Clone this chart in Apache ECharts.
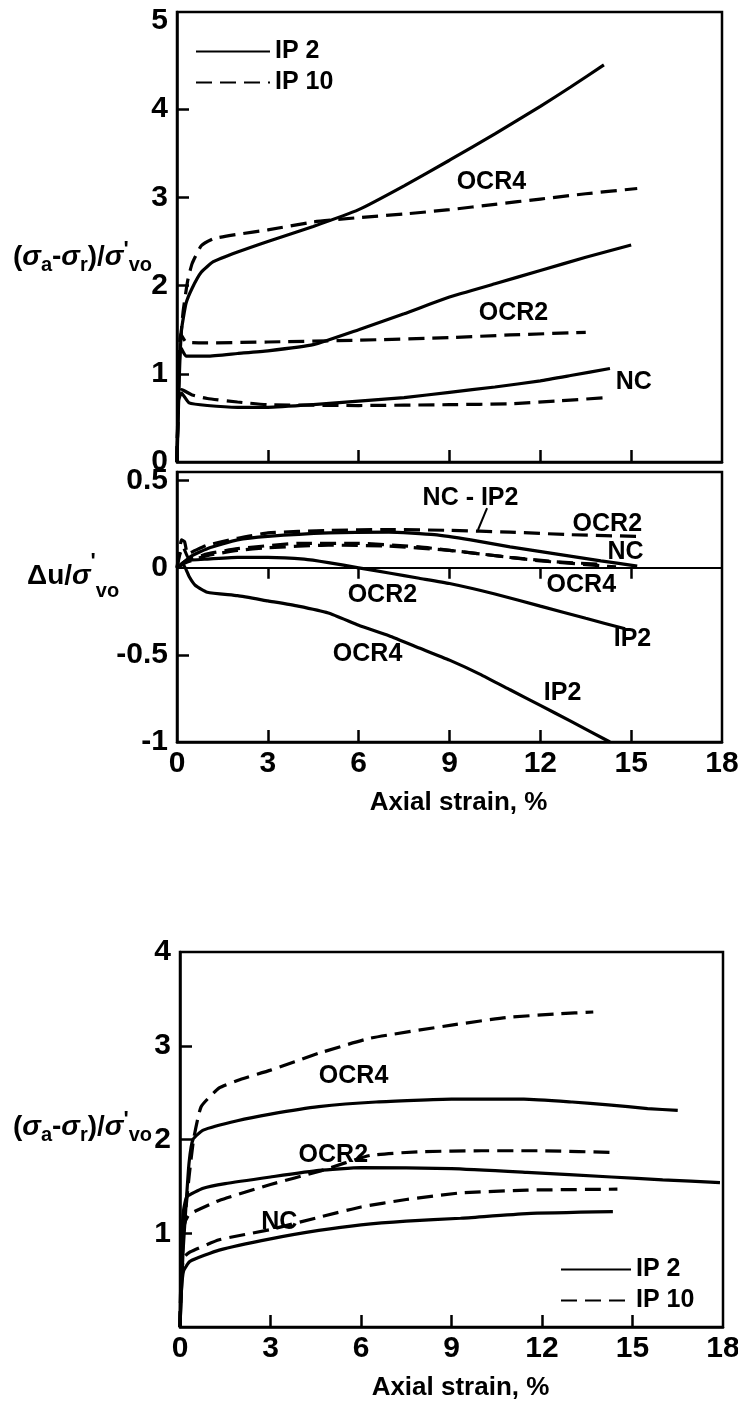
<!DOCTYPE html>
<html><head><meta charset="utf-8">
<script src="https://cdn.jsdelivr.net/npm/echarts@6/dist/echarts.min.js"></script>
<style>html,body{margin:0;padding:0;background:#fff}#c{width:738px;height:1401px}</style>
</head><body><div id="c"></div>
<script>
// ---------- tick values ----------
const xLabelVals = [0, 3, 6, 9, 12, 15, 18];
const xTickVals = [3, 6, 9, 12, 15];
const devYLabels = [0, 1, 2, 3, 4, 5];
const devYTicks = [1, 2, 3, 4];
const ppYLabels = [-1, -0.5, 0, 0.5];
const ppYTicks = [-0.5, 0.5];
const botYLabels = [1, 2, 3, 4];
const botYTicks = [1, 2, 3];

// ---------- Figure 1, upper panel: (σa-σr)/σ'v0 vs axial strain ----------
const f1dev_OCR4_IP2 = [[0,0],[0.08,1.0],[0.15,1.5],[0.3,1.8],[0.5,1.97],[0.8,2.15],[1.2,2.27],[2,2.38],[3,2.5],[4.5,2.67],[6,2.86],[7.5,3.13],[9,3.42],[10.5,3.72],[12,4.03],[13,4.25],[14.1,4.5]];
const f1dev_OCR4_IP10 = [[0,0],[0.08,1.2],[0.2,1.7],[0.35,2.05],[0.5,2.25],[0.8,2.45],[1.2,2.53],[2,2.58],[3,2.63],[4.5,2.72],[6,2.77],[7.5,2.81],[9,2.86],[10.5,2.92],[12,2.98],[13.5,3.04],[15.2,3.1]];
const f1dev_OCR2_IP2 = [[0,0],[0.05,0.9],[0.12,1.3],[0.3,1.2],[1,1.2],[2,1.23],[3,1.26],[4.5,1.33],[6,1.5],[7.5,1.68],[9,1.87],[10.5,2.02],[12,2.17],[13.5,2.32],[15,2.46]];
const f1dev_OCR2_IP10 = [[0,0],[0.05,1.0],[0.12,1.45],[0.3,1.36],[1,1.35],[3,1.36],[6,1.38],[9,1.41],[11,1.44],[13.5,1.47]];
const f1dev_NC_IP2 = [[0,0],[0.05,0.7],[0.15,0.78],[0.4,0.67],[1,0.64],[2,0.62],[3,0.62],[4.5,0.65],[6,0.69],[7.5,0.73],[9,0.79],[10.5,0.85],[12,0.92],[13,0.98],[14.3,1.06]];
const f1dev_NC_IP10 = [[0,0],[0.05,0.75],[0.15,0.82],[0.5,0.76],[1,0.72],[2,0.68],[3,0.65],[6,0.64],[9,0.65],[11,0.66],[12.5,0.69],[14.2,0.73]];

// ---------- Figure 1, lower panel: Δu/σ'v0 vs axial strain ----------
const f1pp_OCR2_IP10 = [[0,0],[0.08,0.1],[0.15,0.16],[0.25,0.15],[0.35,0.08],[0.6,0.1],[1,0.13],[2,0.17],[3,0.2],[5,0.215],[7,0.22],[9,0.215],[11,0.205],[13,0.19],[15.3,0.18]];
const f1pp_NC_IP2 = [[0,0],[0.5,0.07],[1,0.11],[2,0.16],[3,0.18],[5,0.2],[7,0.205],[8.5,0.19],[9.7,0.16],[11,0.12],[12.5,0.08],[14,0.04],[15.2,0.01]];
const f1pp_NC_IP10 = [[0,0],[0.3,0.03],[1,0.07],[2,0.1],[3,0.115],[5,0.13],[7,0.125],[9,0.1],[11,0.06],[12.5,0.035],[14,0.02]];
const f1pp_OCR4_IP10 = [[0,0],[0.1,0.08],[0.2,0.12],[0.4,0.05],[1,0.08],[2,0.11],[4,0.14],[6,0.14],[8,0.12],[10,0.08],[12,0.04],[14.5,0.005]];
const f1pp_OCR2_IP2 = [[0,0],[0.3,0.04],[1,0.05],[2,0.06],[3,0.06],[4.2,0.05],[5,0.03],[6,0.0],[7,-0.03],[8,-0.06],[9,-0.09],[10.5,-0.15],[12,-0.22],[13.5,-0.29],[14.8,-0.35]];
const f1pp_OCR4_IP2 = [[0,0],[0.2,0.02],[0.4,-0.05],[0.6,-0.1],[1,-0.14],[2,-0.16],[3,-0.19],[4,-0.22],[5,-0.26],[6,-0.33],[7,-0.39],[8,-0.46],[9,-0.53],[10,-0.61],[11,-0.7],[12,-0.79],[13,-0.88],[14.3,-1.0]];

// ---------- Figure 2: (σa-σr)/σ'v0 vs axial strain ----------
const f2_OCR4_IP10 = [[0,0],[0.05,0.6],[0.15,1.1],[0.3,1.6],[0.45,2.0],[0.7,2.35],[1.3,2.55],[2,2.64],[3,2.74],[4.6,2.92],[6.3,3.08],[9,3.22],[10.8,3.3],[12.5,3.34],[13.7,3.36]];
const f2_OCR4_IP2 = [[0,0],[0.1,0.8],[0.2,1.3],[0.3,1.75],[0.43,2.0],[0.77,2.1],[1.9,2.2],[3,2.27],[4.6,2.35],[6.5,2.4],[9,2.43],[11.4,2.43],[13,2.4],[14.2,2.37],[15.5,2.33],[16.5,2.31]];
const f2_OCR2_IP10 = [[0,0],[0.05,0.8],[0.15,1.1],[0.3,1.2],[1.3,1.35],[3,1.52],[4.6,1.66],[6.3,1.83],[8,1.87],[10,1.88],[12,1.88],[14.5,1.86]];
const f2_OCR2_IP2 = [[0,0],[0.05,0.9],[0.12,1.25],[0.23,1.39],[0.77,1.48],[1.5,1.53],[3,1.6],[4.6,1.67],[6,1.7],[9,1.69],[11.5,1.65],[14.3,1.6],[16,1.57],[17.9,1.54]];
const f2_NC_IP10 = [[0,0],[0.05,0.6],[0.15,0.75],[0.33,0.8],[1.3,0.93],[3,1.04],[4.6,1.17],[6,1.28],[7.5,1.36],[9.3,1.43],[11.5,1.46],[14.5,1.47]];
const f2_NC_IP2 = [[0,0],[0.05,0.4],[0.12,0.6],[0.33,0.7],[1.3,0.82],[3,0.94],[4.6,1.03],[6,1.09],[7.5,1.13],[9.3,1.16],[11.5,1.21],[14.35,1.23]];

// ---------- curve annotations (data coordinates) ----------
const f1devNotes = [[10.4,3.17,'OCR4'],[11.13,1.68,'OCR2'],[15.1,0.9,'NC']];
const f1ppNotes = [[9.71,0.40,'NC - IP2'],[14.23,0.25,'OCR2'],[14.83,0.085,'NC'],[13.37,-0.105,'OCR4'],[15.06,-0.41,'IP2'],[6.8,-0.16,'OCR2'],[6.31,-0.50,'OCR4'],[12.75,-0.72,'IP2']];
const f1ppPointer = [[10.24,0.343],[9.94,0.217]];
const f2Notes = [[5.77,2.67,'OCR4'],[5.1,1.83,'OCR2'],[3.31,1.11,'NC']];

const SANS = '"Liberation Sans",Arial,sans-serif';
const BLACK = '#000';

function axisIdx(gi) { return gi === 1 ? 1 : (gi === 2 ? 3 : 0); }
function curve(name, data, dashed, gi) {
  return {
    type: 'line', name: name, data: data, xAxisIndex: axisIdx(gi), yAxisIndex: gi,
    showSymbol: false, symbol: 'none', smooth: 0.15, silent: true,
    lineStyle: { color: BLACK, width: 3.2, type: dashed ? [16, 8] : 'solid', cap: 'butt' },
    itemStyle: { color: BLACK }, z: 3
  };
}
function notes(arr, gi) {
  return {
    type: 'scatter', xAxisIndex: axisIdx(gi), yAxisIndex: gi,
    symbolSize: 1, itemStyle: { color: '#fff', opacity: 0 }, silent: true, z: 5,
    data: arr.map(a => ({ value: [a[0], a[1]], name: a[2] })),
    label: { show: true, position: [0, 0], align: 'center', verticalAlign: 'middle', formatter: '{b}', color: BLACK,
      textBorderWidth: 0, opacity: 1,
      fontFamily: SANS, fontWeight: 'bold', fontSize: 25 }
  };
}
function yAxis(gi, min, max, labels, ticks) {
  return {
    type: 'value', gridIndex: gi, min: min, max: max, splitLine: { show: false },
    axisLine: { show: true, onZero: false, lineStyle: { color: BLACK, width: 2.5 } },
    axisTick: { show: true, inside: true, length: 12, customValues: ticks, lineStyle: { color: BLACK, width: 2.5 } },
    axisLabel: { show: true, customValues: labels, margin: 9, color: BLACK, fontFamily: SANS, fontWeight: 'bold', fontSize: 30,
      formatter: v => String(v) }
  };
}
function xAxis(gi, showLabels, extra) {
  return Object.assign({
    type: 'value', gridIndex: gi, min: 0, max: 18, splitLine: { show: false },
    axisLine: { show: true, onZero: false, lineStyle: { color: BLACK, width: 2.5 } },
    axisTick: { show: true, inside: true, length: 12, customValues: xTickVals, lineStyle: { color: BLACK, width: 2.5 } },
    axisLabel: { show: showLabels, customValues: xLabelVals, margin: 7, color: BLACK, fontFamily: SANS, fontWeight: 'bold', fontSize: 30 }
  }, extra || {});
}
const xName = {
  name: 'Axial strain, %', nameLocation: 'middle', nameGap: 48,
  nameTextStyle: { color: BLACK, fontFamily: SANS, fontWeight: 'bold', fontSize: 26, padding: [0, 0, 0, 18] }
};

const richY = {
  m: { fontFamily: SANS, fontWeight: 'bold', fontSize: 28, lineHeight: 36, color: BLACK },
  g: { fontFamily: SANS, fontWeight: 'bold', fontStyle: 'italic', fontSize: 28, lineHeight: 36, color: BLACK },
  s: { fontFamily: SANS, fontWeight: 'bold', fontSize: 20, lineHeight: 20, verticalAlign: 'bottom', color: BLACK },
  p: { fontFamily: SANS, fontWeight: 'bold', fontSize: 22, lineHeight: 22, verticalAlign: 'top', color: BLACK }
};
const richPP = {
  m: { fontFamily: SANS, fontWeight: 'bold', fontSize: 28, lineHeight: 50, color: BLACK },
  g: { fontFamily: SANS, fontWeight: 'bold', fontStyle: 'italic', fontSize: 28, lineHeight: 50, color: BLACK },
  s: { fontFamily: SANS, fontWeight: 'bold', fontSize: 20, lineHeight: 20, verticalAlign: 'bottom', color: BLACK },
  p: { fontFamily: SANS, fontWeight: 'bold', fontSize: 22, lineHeight: 30, verticalAlign: 'top', color: BLACK }
};
const devTitleText = '{m|(}{g|σ}{s|a}{m|-}{g|σ}{s|r}{m|)/}{g|σ}{p|\'}{s|vo}';
const ppTitleText = '{m|Δu/}{g|σ}{p|\'}{s|vo}';

const legendCommon = {
  data: ['IP 2', 'IP 10'], orient: 'vertical', itemHeight: 20, itemGap: 6, selectedMode: false,
  itemStyle: { color: 'rgba(0,0,0,0)', borderWidth: 0, opacity: 0 },
  textStyle: { color: BLACK, fontFamily: SANS, fontWeight: 'bold', fontSize: 25, lineHeight: 24 }
};

const chart = echarts.init(document.getElementById('c'), null, { renderer: 'canvas' });
chart.setOption({
  backgroundColor: '#fff',
  animation: false,
  title: [
    { text: devTitleText, left: 8, top: 234, textStyle: { rich: richY } },
    { text: ppTitleText, left: 22, top: 546, textStyle: { rich: richPP } },
    { text: devTitleText, left: 8, top: 1104, textStyle: { rich: richY } }
  ],
  legend: [
    Object.assign({ left: 190, top: 34, itemWidth: 74 }, legendCommon),
    Object.assign({ left: 555, top: 1252, itemWidth: 70 }, legendCommon)
  ],
  grid: [
    { left: 177, top: 12, width: 545, height: 450, outerBoundsMode: 'none', show: true, borderColor: BLACK, borderWidth: 2.5, backgroundColor: 'transparent' },
    { left: 177, top: 472, width: 545, height: 270, outerBoundsMode: 'none', show: true, borderColor: BLACK, borderWidth: 2.5, backgroundColor: 'transparent' },
    { left: 180, top: 952, width: 543, height: 375, outerBoundsMode: 'none', show: true, borderColor: BLACK, borderWidth: 2.5, backgroundColor: 'transparent' }
  ],
  xAxis: [
    xAxis(0, false),
    xAxis(1, true, xName),
    xAxis(1, false, { position: 'top',
      axisLine: { show: true, onZero: true, lineStyle: { color: BLACK, width: 1.8 } },
      axisTick: { show: true, inside: true, length: 11, customValues: xTickVals, lineStyle: { color: BLACK, width: 2.5 } } }),
    xAxis(2, true, xName)
  ],
  yAxis: [
    yAxis(0, 0, 5.1, devYLabels, devYTicks),
    yAxis(1, -1, 0.55, ppYLabels, ppYTicks),
    yAxis(2, 0, 4, botYLabels, botYTicks)
  ],
  series: [
    curve('IP 2', f1dev_OCR4_IP2, false, 0),
    curve('IP 10', f1dev_OCR4_IP10, true, 0),
    curve('IP 2', f1dev_OCR2_IP2, false, 0),
    curve('IP 10', f1dev_OCR2_IP10, true, 0),
    curve('IP 2', f1dev_NC_IP2, false, 0),
    curve('IP 10', f1dev_NC_IP10, true, 0),

    curve('IP 10', f1pp_OCR2_IP10, true, 1),
    curve('IP 2', f1pp_NC_IP2, false, 1),
    curve('IP 10', f1pp_NC_IP10, true, 1),
    curve('IP 10', f1pp_OCR4_IP10, true, 1),
    curve('IP 2', f1pp_OCR2_IP2, false, 1),
    curve('IP 2', f1pp_OCR4_IP2, false, 1),
    Object.assign(curve('pointer', f1ppPointer, false, 1), { smooth: false, lineStyle: { color: BLACK, width: 2 } }),

    curve('IP 10', f2_OCR4_IP10, true, 2),
    curve('IP 2', f2_OCR4_IP2, false, 2),
    curve('IP 10', f2_OCR2_IP10, true, 2),
    curve('IP 2', f2_OCR2_IP2, false, 2),
    curve('IP 10', f2_NC_IP10, true, 2),
    curve('IP 2', f2_NC_IP2, false, 2),

    notes(f1devNotes, 0),
    notes(f1ppNotes, 1),
    notes(f2Notes, 2)
  ]
});
</script>
</body></html>
